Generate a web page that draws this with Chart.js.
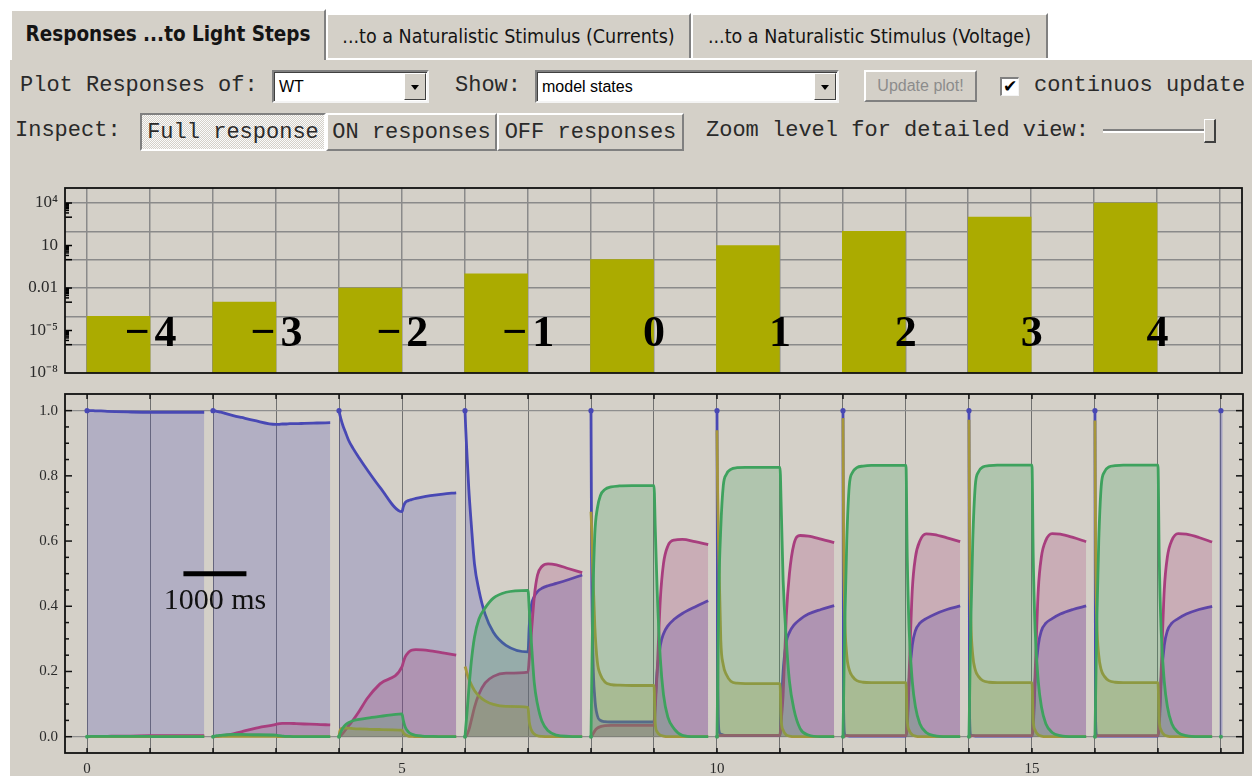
<!DOCTYPE html>
<html lang="en">
<head>
<meta charset="UTF-8">
<title>Responses ...to Light Steps</title>
<script src="https://cdn.jsdelivr.net/npm/chart.js"></script>
<style>
  body { margin: 0; width: 1252px; height: 776px; background: #fff; position: relative; overflow: hidden; }
  .panel { position: absolute; left: 8px; top: 58px; width: 1244px; height: 718px; background: #d4d0c8;
           border-top: 2px solid #fff; border-left: 2px solid #fff; box-sizing: border-box; }
  .tab { position: absolute; background: #d4d0c8; box-sizing: border-box; display: flex; align-items: center; justify-content: center;
         border-top: 2px solid #fff; border-left: 2px solid #fff; border-right: 2px solid #808080;
         font: 19.5px "DejaVu Sans Condensed", "DejaVu Sans", sans-serif; color: #141414; white-space: nowrap; }
  .tab.active { font-weight: bold; font-size: 20.5px; z-index: 2; padding-bottom: 3px; }
  .mono { position: absolute; font: 22px "Liberation Mono", monospace; line-height: 24px; color: #2a2a2a; white-space: pre; }
  .combo { position: absolute; background: #fff; box-sizing: border-box;
           border-top: 2px solid #808080; border-left: 2px solid #808080; border-right: 2px solid #f4f4f4; border-bottom: 2px solid #f4f4f4;
           box-shadow: inset 1px 1px 0 #404040; font: 16px "Liberation Sans", Arial, sans-serif; color: #000; padding: 6px 0 0 5px; }
  .combo .arrow { position: absolute; right: 1px; top: 1px; bottom: 1px; width: 22px; background: #d4d0c8; box-sizing: border-box;
           border-top: 1px solid #fff; border-left: 1px solid #fff; border-right: 1px solid #404040; border-bottom: 1px solid #404040; }
  .combo .arrow::after { content: ""; position: absolute; left: 6px; top: 11px; border-left: 4px solid transparent; border-right: 4px solid transparent; border-top: 5px solid #000; }
  .button { position: absolute; background: #d4d0c8; box-sizing: border-box; display: flex; align-items: center; justify-content: center;
            border-top: 2px solid #fff; border-left: 2px solid #fff; border-right: 2px solid #808080; border-bottom: 2px solid #808080; }
  .seg { font: 22px "Liberation Mono", monospace; color: #2a2a2a; }
  .seg.pressed { border-top-color: #808080; border-left-color: #808080; border-right-color: #fff; border-bottom-color: #fff;
                 background: repeating-conic-gradient(#fbfbfb 0 25%, #d4d0c8 0 50%) 0 0 / 2px 2px; }
  .check { position: absolute; left: 1000px; top: 77px; width: 19px; height: 19px; background: #fff; box-sizing: border-box;
           border-top: 2px solid #808080; border-left: 2px solid #808080; border-right: 1px solid #f4f4f4; border-bottom: 1px solid #f4f4f4;
           font: bold 17px "DejaVu Sans", sans-serif; line-height: 15px; text-align: center; color: #000; }
  .groove { position: absolute; left: 1103px; top: 129px; width: 112px; height: 4px; box-sizing: border-box;
            border-top: 2px solid #808080; border-bottom: 2px solid #fff; }
  .thumb { position: absolute; left: 1204px; top: 119px; width: 12px; height: 24px; background: #d4d0c8; box-sizing: border-box;
           border-top: 1px solid #fff; border-left: 1px solid #fff; border-right: 2px solid #404040; border-bottom: 2px solid #404040; }
  .chartBox { position: absolute; left: 0; width: 1252px; }
</style>
</head>
<body>
  <div class="panel"></div>
  <div class="tab active" style="left:10px; top:9px; width:316px; height:51px;">Responses ...to Light Steps</div>
  <div class="tab" style="left:326px; top:13px; width:365px; height:45px;">...to a Naturalistic Stimulus (Currents)</div>
  <div class="tab" style="left:691px; top:13px; width:357px; height:45px;">...to a Naturalistic Stimulus (Voltage)</div>

  <div class="mono" style="left:20px; top:74px;">Plot Responses of:</div>
  <div class="combo" style="left:272px; top:70px; width:157px; height:33px;">WT<div class="arrow"></div></div>
  <div class="mono" style="left:455px; top:74px;">Show:</div>
  <div class="combo" style="left:535px; top:70px; width:304px; height:33px;">model states<div class="arrow"></div></div>
  <div class="button" style="left:864px; top:70px; width:113px; height:32px; font:16px 'Liberation Sans', Arial, sans-serif; color:#8c8c8c;">Update plot!</div>
  <div class="check">✔</div>
  <div class="mono" style="left:1034px; top:74px;">continuos update</div>

  <div class="mono" style="left:15px; top:119px;">Inspect:</div>
  <div class="button seg pressed" style="left:140px; top:113px; width:186px; height:38px;">Full response</div>
  <div class="button seg" style="left:326px; top:113px; width:171px; height:38px;">ON responses</div>
  <div class="button seg" style="left:497px; top:113px; width:187px; height:38px;">OFF responses</div>
  <div class="mono" style="left:706px; top:119px;">Zoom level for detailed view:</div>
  <div class="groove"></div>
  <div class="thumb"></div>

  <div class="chartBox" style="top:178px; height:205px;"><canvas id="stepChart"></canvas></div>
  <div class="chartBox" style="top:385px; height:391px;"><canvas id="stateChart"></canvas></div>

<script>
  // light steps: start time of each step (s) and log10 intensity
  const segStarts = [0, 2, 4, 6, 8, 10, 12, 14, 16];
  const stepLog = [-4, -3, -2, -1, 0, 1, 2, 3, 4];
  const stepLabels = ['−4', '−3', '−2', '−1', '0', '1', '2', '3', '4'];

  // log axis of the intensity plot
  const decades = [-8, -7, -6, -5, -4, -3, -2, -1, 0, 1, 2, 3, 4];
  const logTickExps = [4, 1, -2, -5, -8];
  const logTickLabels = ['10⁴', '10', '0.01', '10⁻⁵', '10⁻⁸'];

  const gridTimes = [0, 1, 2, 3, 4, 5, 6, 7, 8, 9, 10, 11, 12, 13, 14, 15, 16, 17, 18];
  const stateTicks = [0, 0.05, 0.1, 0.15, 0.2, 0.25, 0.3, 0.35, 0.4, 0.45, 0.5, 0.55, 0.6, 0.65, 0.7, 0.75, 0.8, 0.85, 0.9, 0.95, 1];

  // sample times inside each step (light on 0..1, off 1..1.86)
  const offsets = [0, 0.01, 0.03, 0.06, 0.1, 0.15, 0.22, 0.32, 0.45, 0.65, 1.0,
                   1.02, 1.05, 1.1, 1.15, 1.22, 1.32, 1.45, 1.65, 1.86];

  // model state occupancies, one row per light step
  const stateBlue = [
    [1.0, 1.0, 1.0, 1.0, 1.0, 0.999, 0.999, 0.998, 0.997, 0.996, 0.995, 0.995, 0.995, 0.995, 0.995, 0.995, 0.995, 0.995, 0.995, 0.995],
    [1.0, 1.0, 0.999, 0.998, 0.996, 0.994, 0.99, 0.985, 0.979, 0.97, 0.958, 0.958, 0.958, 0.959, 0.959, 0.96, 0.96, 0.961, 0.962, 0.963],
    [1.0, 0.99, 0.975, 0.955, 0.935, 0.91, 0.885, 0.855, 0.818, 0.765, 0.69, 0.705, 0.718, 0.724, 0.727, 0.731, 0.735, 0.739, 0.744, 0.748],
    [1.0, 0.95, 0.87, 0.76, 0.65, 0.53, 0.45, 0.375, 0.32, 0.28, 0.26, 0.34, 0.4, 0.43, 0.445, 0.455, 0.463, 0.47, 0.482, 0.496],
    [1.0, 0.55, 0.25, 0.12, 0.065, 0.05, 0.046, 0.045, 0.045, 0.045, 0.045, 0.11, 0.2, 0.28, 0.315, 0.34, 0.36, 0.378, 0.398, 0.417],
    [1.0, 0.3, 0.02, 0.008, 0.005, 0.004, 0.004, 0.004, 0.004, 0.004, 0.004, 0.08, 0.2, 0.29, 0.32, 0.342, 0.36, 0.376, 0.39, 0.402],
    [1.0, 0.08, 0.006, 0.003, 0.002, 0.002, 0.002, 0.002, 0.002, 0.002, 0.002, 0.03, 0.17, 0.28, 0.325, 0.348, 0.362, 0.375, 0.39, 0.401],
    [1.0, 0.06, 0.005, 0.003, 0.002, 0.002, 0.002, 0.002, 0.002, 0.002, 0.002, 0.03, 0.17, 0.28, 0.325, 0.348, 0.362, 0.376, 0.39, 0.401],
    [1.0, 0.05, 0.004, 0.002, 0.002, 0.002, 0.002, 0.002, 0.002, 0.002, 0.002, 0.03, 0.17, 0.28, 0.325, 0.348, 0.362, 0.376, 0.39, 0.40]
  ];
  const statePink = [
    [0, 0, 0, 0, 0, 0, 0.001, 0.001, 0.002, 0.002, 0.003, 0.003, 0.003, 0.003, 0.003, 0.003, 0.003, 0.003, 0.003, 0.003],
    [0, 0, 0, 0.001, 0.002, 0.003, 0.005, 0.009, 0.015, 0.025, 0.038, 0.039, 0.04, 0.041, 0.041, 0.041, 0.04, 0.039, 0.038, 0.036],
    [0, 0.001, 0.004, 0.01, 0.02, 0.033, 0.05, 0.078, 0.118, 0.162, 0.215, 0.228, 0.245, 0.258, 0.265, 0.267, 0.266, 0.263, 0.257, 0.25],
    [0, 0.001, 0.006, 0.02, 0.05, 0.09, 0.13, 0.165, 0.185, 0.195, 0.198, 0.24, 0.31, 0.43, 0.495, 0.522, 0.53, 0.527, 0.515, 0.503],
    [0, 0.002, 0.008, 0.018, 0.026, 0.031, 0.034, 0.035, 0.035, 0.035, 0.035, 0.09, 0.2, 0.42, 0.53, 0.585, 0.603, 0.605, 0.598, 0.589],
    [0, 0.001, 0.003, 0.004, 0.004, 0.004, 0.004, 0.004, 0.004, 0.004, 0.004, 0.05, 0.13, 0.37, 0.5, 0.59, 0.617, 0.615, 0.606, 0.595],
    [0, 0.001, 0.002, 0.003, 0.003, 0.003, 0.003, 0.003, 0.003, 0.003, 0.003, 0.05, 0.195, 0.45, 0.55, 0.6, 0.622, 0.62, 0.61, 0.598],
    [0, 0.001, 0.002, 0.003, 0.003, 0.003, 0.003, 0.003, 0.003, 0.003, 0.003, 0.05, 0.195, 0.45, 0.552, 0.602, 0.623, 0.621, 0.611, 0.598],
    [0, 0.001, 0.002, 0.003, 0.003, 0.003, 0.003, 0.003, 0.003, 0.003, 0.003, 0.05, 0.195, 0.45, 0.552, 0.602, 0.623, 0.621, 0.611, 0.597]
  ];
  const stateOlive = [
    [0, 0, 0, 0, 0, 0, 0, 0, 0, 0, 0, 0, 0, 0, 0, 0, 0, 0, 0, 0],
    [0, 0.001, 0.001, 0.001, 0.001, 0.001, 0.001, 0.001, 0.001, 0.001, 0.001, 0, 0, 0, 0, 0, 0, 0, 0, 0],
    [0, 0.015, 0.024, 0.026, 0.026, 0.026, 0.025, 0.024, 0.023, 0.022, 0.02, 0.012, 0.006, 0.002, 0.001, 0, 0, 0, 0, 0],
    [0.215, 0.21, 0.195, 0.178, 0.16, 0.142, 0.125, 0.11, 0.099, 0.093, 0.09, 0.045, 0.022, 0.008, 0.003, 0.001, 0, 0, 0, 0],
    [0.69, 0.64, 0.5, 0.34, 0.23, 0.19, 0.168, 0.16, 0.158, 0.157, 0.157, 0.04, 0.015, 0.005, 0.002, 0, 0, 0, 0, 0],
    [0.94, 0.75, 0.552, 0.297, 0.22, 0.19, 0.17, 0.164, 0.163, 0.163, 0.163, 0.05, 0.02, 0.005, 0.002, 0, 0, 0, 0, 0],
    [0.977, 0.6, 0.36, 0.25, 0.205, 0.185, 0.172, 0.167, 0.166, 0.166, 0.166, 0.05, 0.02, 0.006, 0.002, 0, 0, 0, 0, 0],
    [0.972, 0.58, 0.355, 0.25, 0.205, 0.185, 0.172, 0.167, 0.166, 0.166, 0.166, 0.05, 0.02, 0.006, 0.002, 0, 0, 0, 0, 0],
    [0.97, 0.57, 0.35, 0.25, 0.205, 0.185, 0.172, 0.167, 0.166, 0.166, 0.166, 0.05, 0.02, 0.006, 0.002, 0, 0, 0, 0, 0]
  ];
  const stateGreen = [
    [0, 0, 0, 0.001, 0.001, 0.001, 0.001, 0.001, 0.001, 0.001, 0.001, 0, 0, 0, 0, 0, 0, 0, 0, 0],
    [0, 0.001, 0.002, 0.003, 0.004, 0.005, 0.006, 0.007, 0.007, 0.006, 0.005, 0.004, 0.003, 0.002, 0.001, 0.001, 0, 0, 0, 0],
    [0, 0.006, 0.015, 0.026, 0.036, 0.043, 0.049, 0.053, 0.057, 0.062, 0.07, 0.05, 0.03, 0.015, 0.008, 0.004, 0.002, 0.001, 0, 0],
    [0, 0.025, 0.07, 0.143, 0.23, 0.305, 0.36, 0.395, 0.425, 0.443, 0.449, 0.39, 0.3, 0.164, 0.1, 0.048, 0.018, 0.005, 0.001, 0],
    [0, 0.15, 0.42, 0.62, 0.7, 0.74, 0.758, 0.766, 0.769, 0.77, 0.77, 0.64, 0.45, 0.24, 0.13, 0.06, 0.024, 0.004, 0, 0],
    [0, 0.15, 0.45, 0.64, 0.77, 0.805, 0.82, 0.825, 0.826, 0.826, 0.826, 0.7, 0.48, 0.297, 0.17, 0.085, 0.025, 0.005, 0, 0],
    [0, 0.12, 0.36, 0.6, 0.77, 0.81, 0.825, 0.83, 0.832, 0.832, 0.832, 0.552, 0.33, 0.17, 0.092, 0.04, 0.013, 0.003, 0, 0],
    [0, 0.12, 0.36, 0.6, 0.77, 0.812, 0.827, 0.831, 0.833, 0.833, 0.833, 0.552, 0.33, 0.17, 0.092, 0.04, 0.013, 0.003, 0, 0],
    [0, 0.12, 0.36, 0.6, 0.77, 0.812, 0.827, 0.831, 0.833, 0.833, 0.833, 0.552, 0.33, 0.17, 0.092, 0.04, 0.013, 0.003, 0, 0]
  ];
  // single sample at the end of the protocol
  const endTime = 18;
  const endState = [1, 0, 0, 0];

  const lineColors = ['#4848b4', '#a83e7e', '#a6963a', '#3ea25e'];
  const fillColors = ['rgba(72,72,180,0.24)', 'rgba(168,62,126,0.24)', 'rgba(166,150,58,0.24)', 'rgba(62,162,94,0.24)'];
  const serif = '"Liberation Serif", "Times New Roman", serif';

  function buildSeries(segs, last) {
    const pts = [];
    segs.forEach((vals, i) => {
      vals.forEach((v, j) => pts.push({ x: segStarts[i] + offsets[j], y: v }));
      pts.push({ x: segStarts[i] + 1.93, y: null });
    });
    pts.push({ x: endTime, y: last });
    return pts;
  }

  function line(ctx, x0, y0, x1, y1) {
    ctx.beginPath(); ctx.moveTo(x0, y0); ctx.lineTo(x1, y1); ctx.stroke();
  }

  // keep the plot frame where the layout padding puts it
  function fixAxis(width) {
    return ax => {
      if (width !== undefined) ax.width = width;
      ax.paddingTop = 0; ax.paddingBottom = 0; ax.paddingLeft = 0; ax.paddingRight = 0;
    };
  }

  // ---------- intensity of the light steps ----------
  const stepDecor = {
    id: 'stepDecor',
    afterDraw(chart) {
      const { ctx, chartArea: a, scales: { x, y } } = chart;
      ctx.save();
      ctx.fillStyle = '#000';
      ctx.font = 'bold 44px ' + serif;
      ctx.textAlign = 'center';
      ctx.textBaseline = 'alphabetic';
      ctx.letterSpacing = '5px';
      stepLabels.forEach((lab, i) => {
        ctx.fillText(lab, x.getPixelForValue(segStarts[i] + 1) + 3, y.getPixelForValue(1e-5) + 15);
      });
      ctx.letterSpacing = '0px';
      // minor log ticks next to the labelled decades
      ctx.strokeStyle = '#000';
      ctx.lineWidth = 1.5;
      logTickExps.slice(0, 4).forEach(e => {
        for (let m = 1; m <= 10; m++) {
          const py = y.getPixelForValue(m * Math.pow(10, e - 1));
          line(ctx, a.left, py, a.left + (m === 10 || m === 1 ? 7 : 4), py);
        }
      });
      ctx.strokeStyle = '#111';
      ctx.lineWidth = 1.8;
      ctx.strokeRect(a.left, a.top, a.right - a.left, a.bottom - a.top);
      ctx.restore();
    }
  };

  new Chart(document.getElementById('stepChart'), {
    type: 'bar',
    data: {
      datasets: [{
        data: segStarts.map((s, i) => ({ x: s + 0.5, y: Math.pow(10, stepLog[i]) })),
        backgroundColor: '#abab00',
        borderWidth: 0,
        categoryPercentage: 1,
        barPercentage: 1
      }]
    },
    options: {
      animation: false,
      maintainAspectRatio: false,
      layout: { padding: { top: 10, right: 10, bottom: 10, left: 0 } },
      plugins: { legend: { display: false }, tooltip: { enabled: false } },
      scales: {
        x: {
          type: 'linear', min: -0.35, max: 18.35, z: 1, offset: false,
          afterBuildTicks: ax => { ax.ticks = gridTimes.map(v => ({ value: v })); },
          afterFit: ax => { ax.height = 0; fixAxis()(ax); },
          ticks: { display: false },
          grid: { color: '#8a8a8a', lineWidth: 1.5, drawTicks: false, offset: false },
          border: { display: false }
        },
        y: {
          type: 'logarithmic', min: 1e-8, max: 1.15e5, z: 1,
          afterBuildTicks: ax => { ax.ticks = decades.map(e => ({ value: Math.pow(10, e) })); },
          afterFit: fixAxis(65),
          ticks: {
            autoSkip: false, padding: 7, color: '#2a2a2a',
            font: { family: serif, size: 17 },
            callback: v => {
              const i = logTickExps.indexOf(Math.round(Math.log10(v)));
              return i < 0 ? '' : logTickLabels[i];
            }
          },
          grid: {
            drawTicks: false, lineWidth: 1.5,
            color: c => {
              const e = Math.round(Math.log10(c.tick.value));
              return (e % 2 === 0 && e > -8) ? '#8a8a8a' : 'rgba(0,0,0,0)';
            }
          },
          border: { display: false }
        }
      }
    },
    plugins: [stepDecor]
  });

  // ---------- model states ----------
  const scaleBar = { t0: 1.53, t1: 2.53, level: 0.5, label: '1000 ms' };

  const stateDecor = {
    id: 'stateDecor',
    afterDraw(chart) {
      const { ctx, chartArea: a, scales: { x, y } } = chart;
      ctx.save();
      // scale bar
      const by = y.getPixelForValue(scaleBar.level);
      ctx.strokeStyle = '#000';
      ctx.lineWidth = 5;
      line(ctx, x.getPixelForValue(scaleBar.t0), by, x.getPixelForValue(scaleBar.t1), by);
      ctx.fillStyle = '#111';
      ctx.font = '30px ' + serif;
      ctx.textAlign = 'center';
      ctx.textBaseline = 'middle';
      ctx.fillText(scaleBar.label, x.getPixelForValue((scaleBar.t0 + scaleBar.t1) / 2), by + 27);
      // frame with inward ticks
      ctx.strokeStyle = '#111';
      ctx.lineWidth = 1.5;
      y.ticks.forEach(t => {
        const py = y.getPixelForValue(t.value);
        const len = t.label ? 7 : 4;
        line(ctx, a.left, py, a.left + len, py);
        line(ctx, a.right, py, a.right - len, py);
      });
      x.ticks.forEach(t => {
        const px = x.getPixelForValue(t.value);
        line(ctx, px, a.top, px, a.top + 5);
        line(ctx, px, a.bottom, px, a.bottom - 5);
      });
      ctx.lineWidth = 1.8;
      ctx.strokeRect(a.left, a.top, a.right - a.left, a.bottom - a.top);
      ctx.restore();
    }
  };

  const states = [stateBlue, statePink, stateOlive, stateGreen];
  const datasets = states.map((segs, k) => ({
    data: buildSeries(segs, endState[k]),
    borderColor: lineColors[k],
    backgroundColor: fillColors[k],
    borderWidth: 2.8,
    fill: 'origin',
    cubicInterpolationMode: 'monotone',
    order: 4 - k,
    pointBackgroundColor: lineColors[k],
    pointBorderWidth: 0,
    pointRadius: c => {
      if (k !== 0 && k !== 3) return 0;
      const d = c.dataset.data;
      const first = c.dataIndex === 0 || d[c.dataIndex - 1].y === null;
      return first ? (k === 0 ? 2.6 : 2) : 0;
    }
  }));
  datasets.push({
    data: [{ x: endTime, y: 0 }, { x: endTime, y: endState[0] }],
    borderColor: 'rgba(72,72,180,0.35)',
    borderWidth: 3,
    pointRadius: 0,
    fill: false,
    order: 5
  });

  new Chart(document.getElementById('stateChart'), {
    type: 'line',
    data: { datasets },
    options: {
      animation: false,
      maintainAspectRatio: false,
      layout: { padding: { top: 9, right: 9, bottom: 0, left: 0 } },
      plugins: { legend: { display: false }, tooltip: { enabled: false } },
      scales: {
        x: {
          type: 'linear', min: -0.35, max: 18.35,
          afterBuildTicks: ax => { ax.ticks = gridTimes.map(v => ({ value: v })); },
          afterFit: ax => { ax.height = 23; fixAxis()(ax); },
          ticks: {
            autoSkip: false, maxRotation: 0, padding: 7, color: '#2a2a2a',
            font: { family: serif, size: 15 },
            callback: v => (v % 5 === 0 ? String(v) : '')
          },
          grid: { color: '#707070', lineWidth: 1, drawTicks: false },
          border: { display: false }
        },
        y: {
          type: 'linear', min: -0.05, max: 1.051,
          afterBuildTicks: ax => { ax.ticks = stateTicks.map(v => ({ value: v })); },
          afterFit: fixAxis(65),
          ticks: {
            autoSkip: false, padding: 7, color: '#2a2a2a',
            font: { family: serif, size: 15 },
            callback: v => (Math.round(v * 100) % 20 === 0 ? v.toFixed(1) : '')
          },
          grid: {
            drawTicks: false, lineWidth: 1.2,
            color: c => (c.tick.value === 0 || c.tick.value === 1 ? '#8e8e8e' : 'rgba(0,0,0,0)')
          },
          border: { display: false }
        }
      }
    },
    plugins: [stateDecor]
  });
</script>
</body>
</html>
